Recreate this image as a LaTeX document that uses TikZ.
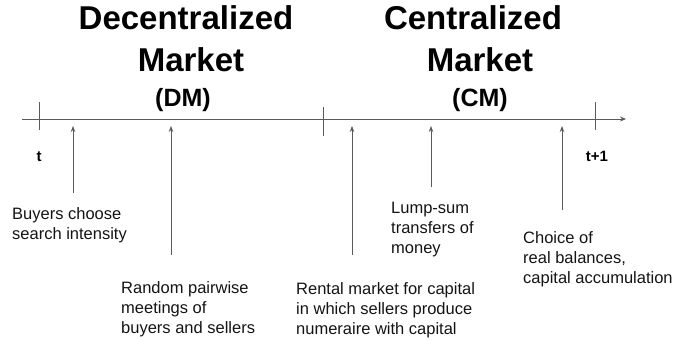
\documentclass[tikz,border=0pt]{standalone}
\usepackage{fontspec}
\setmainfont{Liberation Sans}
\usetikzlibrary{arrows.meta}
\definecolor{linegray}{HTML}{5A5A5A}
\definecolor{txt}{HTML}{141414}
\tikzset{
  title/.style={font=\fontsize{33}{38}\selectfont\bfseries, inner sep=0pt, anchor=base, text=black},
  abbr/.style={font=\fontsize{25}{30}\selectfont\bfseries, inner sep=0pt, anchor=base, text=black},
  lbl/.style={font=\fontsize{16.5}{20}\selectfont, inner sep=0pt, anchor=north west, align=left, text=txt},
  tlabel/.style={font=\fontsize{15}{18}\selectfont\bfseries, inner sep=0pt, anchor=base, text=black},
  axis/.style={draw=linegray, line width=0.8pt, -{Stealth[length=6pt,width=5pt]}},
  tick/.style={draw=linegray, line width=0.8pt},
  evt/.style={draw=linegray, line width=0.8pt, -{Stealth[length=6pt,width=4.5pt]}}
}
\begin{document}
\begin{tikzpicture}[x=1pt,y=-1pt]
\useasboundingbox (0,0) rectangle (678,340);
% titles
\node[title] (dec) at (186,30) {Decentralized};
\node[title] (dmk) at (191,71) {Market};
\node[abbr] (dm) at (183,106) {(DM)};
\node[title] (cen) at (473,30) {Centralized};
\node[title] (cmk) at (480,71) {Market};
\node[abbr] (cm) at (480,106) {(CM)};
% timeline
\coordinate (L) at (22,119);
\coordinate (R) at (626,119);
\draw[axis] (L) -- (R);
\coordinate (t1a) at (39,102); \coordinate (t1b) at (39,130);
\coordinate (t2a) at (323,107); \coordinate (t2b) at (323,136);
\coordinate (t3a) at (595,102); \coordinate (t3b) at (595,130);
\draw[tick] (t1a) -- (t1b);
\draw[tick] (t2a) -- (t2b);
\draw[tick] (t3a) -- (t3b);
\node[tlabel] (t) at (39,161) {t};
\node[tlabel] (t1) at (597,161) {t+1};
% event arrows
\coordinate (e1b) at (73,193);  \coordinate (e1t) at (73,126);
\coordinate (e2b) at (171,255); \coordinate (e2t) at (171,126);
\coordinate (e3b) at (352,255); \coordinate (e3t) at (352,126);
\coordinate (e4b) at (431,187); \coordinate (e4t) at (431,126);
\coordinate (e5b) at (562,210); \coordinate (e5t) at (562,126);
\draw[evt] (e1b) -- (e1t);
\draw[evt] (e2b) -- (e2t);
\draw[evt] (e3b) -- (e3t);
\draw[evt] (e4b) -- (e4t);
\draw[evt] (e5b) -- (e5t);
% labels
\node[lbl] (buy) at (12,207) {Buyers choose\\search intensity};
\node[lbl] (rnd) at (121,281) {Random pairwise\\meetings of\\buyers and sellers};
\node[lbl] (rent) at (296,282) {Rental market for capital\\in which sellers produce\\numeraire with capital};
\node[lbl] (lump) at (391,202) {Lump-sum\\transfers of\\money};
\node[lbl] (cho) at (523,231) {Choice of\\real balances,\\capital accumulation};
\end{tikzpicture}
\end{document}
